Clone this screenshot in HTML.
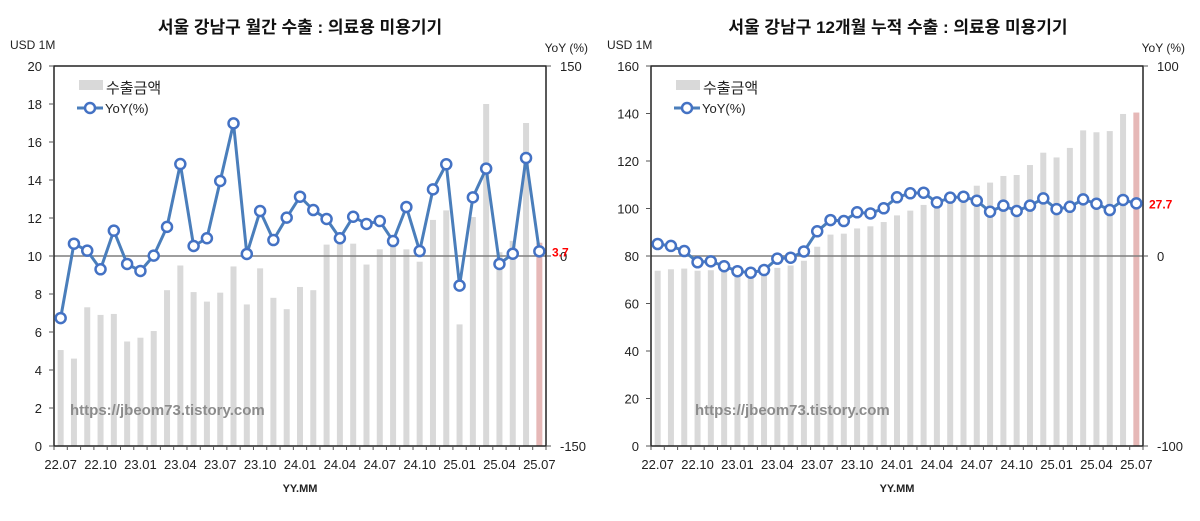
<!DOCTYPE html>
<html><head><meta charset="utf-8"><style>
body{margin:0;background:#fff;font-family:"Liberation Sans","Noto Sans CJK KR",sans-serif}
svg text{font-family:"Liberation Sans","Noto Sans CJK KR",sans-serif}
</style></head><body>
<svg id="c" width="1200" height="516"></svg>
<script>
const categories=["22.07","22.08","22.09","22.10","22.11","22.12","23.01","23.02","23.03","23.04","23.05","23.06","23.07","23.08","23.09","23.10","23.11","23.12","24.01","24.02","24.03","24.04","24.05","24.06","24.07","24.08","24.09","24.10","24.11","24.12","25.01","25.02","25.03","25.04","25.05","25.06","25.07"];
const monthlyExports=[5.05,4.6,7.3,6.9,6.95,5.5,5.7,6.05,8.2,9.5,8.1,7.6,8.07,9.45,7.45,9.35,7.8,7.2,8.37,8.2,10.6,10.7,10.65,9.55,10.35,10.5,10.35,9.7,11.9,12.4,6.4,12.05,18.0,10.2,10.8,17.0,10.7];
const monthlyYoY=[-49,9.7,4.2,-10.5,20,-6.3,-11.8,0.3,23,72.6,7.9,14,59.2,104.7,1.6,35.5,12.6,30.3,46.8,36.3,29.2,14,31,25.3,27.6,11.8,38.7,3.9,52.6,72.4,-23.4,46.3,69,-6.3,1.8,77.4,3.7];
const cumExports=[73.8,74.4,74.7,73.8,74,73.5,73,73,74,75,76,78,83.9,89,89.4,91.6,92.5,94.3,97.1,99.1,101.5,103,104,105,109.6,110.9,113.7,114.1,118.3,123.5,121.5,125.5,132.9,132.1,132.6,139.8,140.4];
const cumYoY=[6.3,5.3,2.6,-3.3,-2.8,-5.4,-8,-8.8,-7.4,-1.4,-0.9,2.4,13,18.9,18.4,23,22.4,25.1,30.9,33,33.3,28.2,30.7,31.2,29.1,23.3,26.5,23.7,26.5,30.3,24.7,25.9,29.8,27.5,24.2,29.5,27.7];
const leftTicks1=[0,2,4,6,8,10,12,14,16,18,20];
const rightTicks1=[-150,0,150];
const leftTicks2=[0,20,40,60,80,100,120,140,160];
const rightTicks2=[-100,0,100];
const xTickLabels=["22.07","22.10","23.01","23.04","23.07","23.10","24.01","24.04","24.07","24.10","25.01","25.04","25.07"];

const svg=document.getElementById('c');
const NS='http://www.w3.org/2000/svg';
function mk(tag,attrs,parent){const e=document.createElementNS(NS,tag);for(const k in attrs)e.setAttribute(k,attrs[k]);(parent||svg).appendChild(e);return e;}
function txt(s,attrs,parent){const e=mk('text',attrs,parent);e.textContent=s;return e;}

function drawChart(o){
  const g=mk('g',{});
  
  
  const {x0,x1,y0,y1}=o;
  const n=categories.length, bw=(x1-x0)/n;
  const xc=i=>x0+bw*(i+0.5);
  const yL=v=>y1-(v-o.lmin)/(o.lmax-o.lmin)*(y1-y0);
  const yR=v=>y1-(v-o.rmin)/(o.rmax-o.rmin)*(y1-y0);
  let t=txt(o.title,{x:o.tx,y:33,'font-size':17,'font-weight':'bold','text-anchor':'middle',fill:'#111'},g);
  
  t=txt('USD 1M',{x:x0-44,y:49,'font-size':12,fill:'#222'},g);
  
  t=txt('YoY (%)',{x:x1+42,y:52,'font-size':12,fill:'#222','text-anchor':'end'},g);
  
  // bars
  o.bars.forEach((v,i)=>{
    const r=mk('rect',{x:xc(i)-3,y:yL(v),width:6,height:y1-yL(v),fill:i==n-1?'#e6b8b7':'#d9d9d9'},g);
    
    
  });
  // zero line
  const z=mk('line',{x1:x0,x2:x1,y1:yR(0),y2:yR(0),stroke:'#7f7f7f','stroke-width':1.5},g);
  
  // frame
  const f=mk('rect',{x:x0,y:y0,width:x1-x0,height:y1-y0,fill:'none',stroke:'#222','stroke-width':1.5},g);
  
  o.lticks.forEach(v=>{
    mk('line',{x1:x0-5,x2:x0,y1:yL(v),y2:yL(v),stroke:'#555'},g);
    const e=txt(String(v),{x:x0-12,y:yL(v)+5,'font-size':13,'text-anchor':'end',fill:'#222'},g);
    
  });
  o.rticks.forEach(v=>{
    mk('line',{x1:x1,x2:x1+5,y1:yR(v),y2:yR(v),stroke:'#555'},g);
    const e=txt(String(v),{x:x1+14,y:yR(v)+5,'font-size':13,fill:'#222'},g);
    
  });
  for(let i=0;i<=n;i++) mk('line',{x1:x0+bw*i,x2:x0+bw*i,y1:y1,y2:y1+4,stroke:'#555'},g);
  xTickLabels.forEach(l=>{
    const i=categories.indexOf(l);
    const e=txt(l,{x:xc(i),y:y1+23,'font-size':13,'text-anchor':'middle',fill:'#222'},g);
    
  });
  t=txt('YY.MM',{x:(x0+x1)/2,y:y1+46,'font-size':11,'font-weight':'bold','text-anchor':'middle',fill:'#222'},g);
  
  // line
  const pts=o.line.map((v,i)=>xc(i)+','+yR(v)).join(' ');
  const pl=mk('polyline',{points:pts,fill:'none',stroke:'#4a7ebb','stroke-width':3},g);
  
  o.line.forEach((v,i)=>{
    const c=mk('circle',{cx:xc(i),cy:yR(v),r:5,fill:'#fff',stroke:'#4472c4','stroke-width':2.5},g);
    
    
  });
  const last=o.line[n-1];
  t=txt(String(last),{x:x1+6,y:yR(last)+5,'font-size':12,'font-weight':'bold',fill:'#ff0000'},g);
  
  // legend
  const lx=x0+25;
  mk('rect',{x:lx,y:80,width:24,height:10,fill:'#d9d9d9'},g);
  t=txt('수출금액',{x:lx+27,y:93,'font-size':15,fill:'#222'},g);
  
  mk('line',{x1:lx-2,x2:lx+24,y1:108,y2:108,stroke:'#4a7ebb','stroke-width':3},g);
  mk('circle',{cx:lx+11,cy:108,r:5,fill:'#fff',stroke:'#4472c4','stroke-width':2.5},g);
  t=txt('YoY(%)',{x:lx+26,y:113,'font-size':13,fill:'#222'},g);
  
  t=txt('https://jbeom73.tistory.com',{x:o.wx,y:415,'font-size':15,'font-weight':'bold',fill:'#8c8c8c'},g);
  
}
drawChart({name:'monthly-chart',title:'서울 강남구 월간 수출 : 의료용 미용기기',tx:300,x0:54,x1:546,y0:66,y1:446,lmin:0,lmax:20,rmin:-150,rmax:150,bars:monthlyExports,line:monthlyYoY,lticks:leftTicks1,rticks:rightTicks1,wx:70});
drawChart({name:'cumulative-chart',title:'서울 강남구 12개월 누적 수출 : 의료용 미용기기',tx:898,x0:651,x1:1143,y0:66,y1:446,lmin:0,lmax:160,rmin:-100,rmax:100,bars:cumExports,line:cumYoY,lticks:leftTicks2,rticks:rightTicks2,wx:695});
</script>
</body></html>
